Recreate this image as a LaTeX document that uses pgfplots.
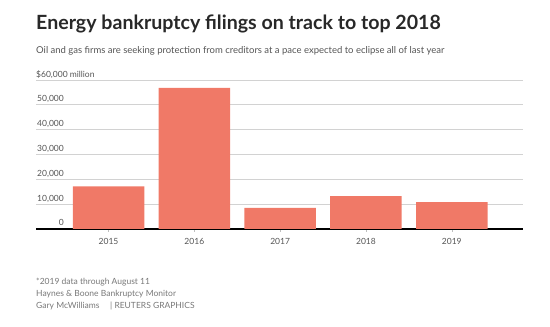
\documentclass[border=0pt]{standalone}
\usepackage{pgfplots}
\pgfplotsset{compat=1.18}
\usepackage{fontspec}
\setmainfont{Lato}
\definecolor{barc}{RGB}{240,121,103}
\definecolor{titlec}{RGB}{40,40,40}
\definecolor{subc}{RGB}{85,85,85}
\definecolor{notec}{RGB}{120,120,120}
\definecolor{gridc}{RGB}{210,210,210}
\begin{document}
\begin{tikzpicture}[x=1pt,y=1pt]
\path[use as bounding box] (0,0) rectangle (550,327);
\node[anchor=base west,inner sep=0pt,text=titlec] at (36,297) {\fontsize{19.6}{21}\selectfont\bfseries Energy bankruptcy filings on track to top 2018};
\node[anchor=base west,inner sep=0pt,text=subc] at (36,273) {\fontsize{9.5}{11}\selectfont Oil and gas firms are seeking protection from creditors at a pace expected to eclipse all of last year};
\begin{axis}[
  at={(36pt,98pt)}, anchor=south west,
  scale only axis, width=487pt, height=149pt,
  xmin=-0.845, xmax=4.83, ymin=0, ymax=60000,
  ybar, bar width=71.5pt,
  axis x line*=bottom, axis y line*=left,
  y axis line style={draw=none},
  x axis line style={black, line width=1.3pt, -},
  xtick={0,1,2,3,4},
  xticklabels={2015,2016,2017,2018,2019},
  xtick style={draw=gray!50, line width=0.5pt},
  major tick length=3pt, tick align=outside,
  xticklabel style={font=\fontsize{8.5}{10}\selectfont, text=subc, yshift=-3pt},
  scaled y ticks=false,
  ytick={0,10000,20000,30000,40000,50000,60000},
  yticklabels={0,{10,000},{20,000},{30,000},{40,000},{50,000},{}},
  ymajorgrids, major grid style={gridc, line width=0.8pt},
  ytick style={draw=none},
  yticklabel style={font=\fontsize{8.5}{10}\selectfont, text=subc, anchor=base east, inner sep=0pt, xshift=31pt, yshift=3pt},
  clip=false,
]
\addplot[fill=barc, draw=none] coordinates {(0,17200) (1,56800) (2,8500) (3,13200) (4,10800)};
\node[anchor=base west, inner sep=0pt, text=subc, font=\fontsize{8.5}{10}\selectfont] at (rel axis cs:0,1) [yshift=3pt] {\$60,000 million};
\end{axis}
\begin{scope}[every node/.style={anchor=base west,inner sep=0pt,text=notec,font=\fontsize{8.5}{10}\selectfont}]
\node at (36,42) {*2019 data through August 11};
\node at (36,30) {Haynes \& Boone Bankruptcy Monitor};
\node at (36,18) {Gary McWilliams\quad\ | REUTERS GRAPHICS};
\end{scope}
\end{tikzpicture}
\end{document}
